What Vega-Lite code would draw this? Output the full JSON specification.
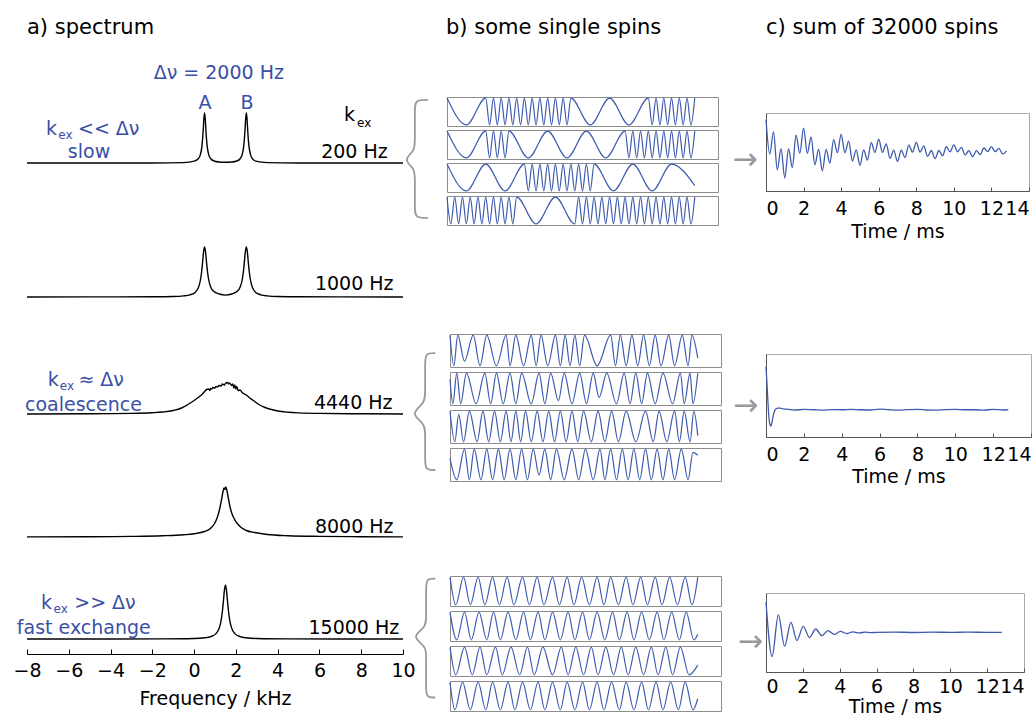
{
"$schema":"https://vega.github.io/schema/vega-lite/v6.json",
"background":"white",
"padding":{"left":12,"top":17,"right":0,"bottom":0},
"config":{"view":{"stroke":null},"font":"DejaVu Sans","text":{"font":"DejaVu Sans"},
 "title":{"anchor":"start","frame":"group","fontSize":21,"fontWeight":"normal","font":"DejaVu Sans","color":"black","offset":8},
 "line":{"interpolate":"monotone"}},
"datasets":{
"spec":[
{"k":1,"x":-8,"y":0},{"k":1,"x":-5,"y":0.0003},{"k":1,"x":-2,"y":0.0013},{"k":1,"x":-0.5,"y":0.008},{"k":1,"x":0,"y":0.038},{"k":1,"x":0.2,"y":0.083},{"k":1,"x":0.3,"y":0.168},{"k":1,"x":0.37,"y":0.324},{"k":1,"x":0.41,"y":0.5},{"k":1,"x":0.44,"y":0.69},{"k":1,"x":0.47,"y":0.9},{"k":1,"x":0.5,"y":1},{"k":1,"x":0.53,"y":0.9},{"k":1,"x":0.56,"y":0.69},{"k":1,"x":0.59,"y":0.5},{"k":1,"x":0.63,"y":0.324},{"k":1,"x":0.7,"y":0.168},{"k":1,"x":0.8,"y":0.085},{"k":1,"x":0.95,"y":0.04},{"k":1,"x":1.2,"y":0.02},{"k":1,"x":1.5,"y":0.016},{"k":1,"x":1.8,"y":0.02},{"k":1,"x":2.05,"y":0.04},{"k":1,"x":2.2,"y":0.085},{"k":1,"x":2.3,"y":0.168},{"k":1,"x":2.37,"y":0.324},{"k":1,"x":2.41,"y":0.5},{"k":1,"x":2.44,"y":0.69},{"k":1,"x":2.47,"y":0.9},{"k":1,"x":2.5,"y":1},{"k":1,"x":2.53,"y":0.9},{"k":1,"x":2.56,"y":0.69},{"k":1,"x":2.59,"y":0.5},{"k":1,"x":2.63,"y":0.324},{"k":1,"x":2.7,"y":0.168},{"k":1,"x":2.8,"y":0.083},{"k":1,"x":2.95,"y":0.038},{"k":1,"x":3.5,"y":0.008},{"k":1,"x":5,"y":0.0013},{"k":1,"x":8,"y":0.0003},{"k":1,"x":10,"y":0},
{"k":2,"x":-8,"y":0.001},{"k":2,"x":-5,"y":0.0016},{"k":2,"x":-2,"y":0.005},{"k":2,"x":-1,"y":0.0095},{"k":2,"x":-0.5,"y":0.022},{"k":2,"x":-0.2,"y":0.043},{"k":2,"x":0.05,"y":0.092},{"k":2,"x":0.2,"y":0.183},{"k":2,"x":0.3,"y":0.335},{"k":2,"x":0.36,"y":0.505},{"k":2,"x":0.4,"y":0.668},{"k":2,"x":0.45,"y":0.893},{"k":2,"x":0.5,"y":1},{"k":2,"x":0.55,"y":0.895},{"k":2,"x":0.6,"y":0.67},{"k":2,"x":0.64,"y":0.51},{"k":2,"x":0.7,"y":0.34},{"k":2,"x":0.8,"y":0.195},{"k":2,"x":0.95,"y":0.11},{"k":2,"x":1.2,"y":0.06},{"k":2,"x":1.5,"y":0.038},{"k":2,"x":1.8,"y":0.06},{"k":2,"x":2.05,"y":0.11},{"k":2,"x":2.2,"y":0.195},{"k":2,"x":2.3,"y":0.34},{"k":2,"x":2.36,"y":0.51},{"k":2,"x":2.4,"y":0.67},{"k":2,"x":2.45,"y":0.895},{"k":2,"x":2.5,"y":1},{"k":2,"x":2.55,"y":0.893},{"k":2,"x":2.6,"y":0.668},{"k":2,"x":2.64,"y":0.505},{"k":2,"x":2.7,"y":0.335},{"k":2,"x":2.8,"y":0.183},{"k":2,"x":2.95,"y":0.092},{"k":2,"x":3.2,"y":0.043},{"k":2,"x":3.5,"y":0.022},{"k":2,"x":4,"y":0.0095},{"k":2,"x":5,"y":0.005},{"k":2,"x":7,"y":0.0016},{"k":2,"x":10,"y":0.001},
{"k":3,"x":-8,"y":0},{"k":3,"x":-5,"y":0.005},{"k":3,"x":-3,"y":0.012},{"k":3,"x":-2,"y":0.025},{"k":3,"x":-1.5,"y":0.04},{"k":3,"x":-1,"y":0.07},{"k":3,"x":-0.6,"y":0.12},{"k":3,"x":-0.3,"y":0.19},{"k":3,"x":0,"y":0.27},{"k":3,"x":0.2,"y":0.33},{"k":3,"x":0.4,"y":0.4},{"k":3,"x":0.5,"y":0.45},{"k":3,"x":0.6,"y":0.49},{"k":3,"x":0.7,"y":0.5},{"k":3,"x":0.75,"y":0.47},{"k":3,"x":0.8,"y":0.51},{"k":3,"x":0.85,"y":0.5},{"k":3,"x":0.9,"y":0.53},{"k":3,"x":1,"y":0.52},{"k":3,"x":1.05,"y":0.55},{"k":3,"x":1.1,"y":0.54},{"k":3,"x":1.2,"y":0.57},{"k":3,"x":1.3,"y":0.56},{"k":3,"x":1.35,"y":0.6},{"k":3,"x":1.45,"y":0.58},{"k":3,"x":1.5,"y":0.61},{"k":3,"x":1.6,"y":0.63},{"k":3,"x":1.65,"y":0.6},{"k":3,"x":1.7,"y":0.62},{"k":3,"x":1.8,"y":0.57},{"k":3,"x":1.85,"y":0.6},{"k":3,"x":1.9,"y":0.52},{"k":3,"x":1.95,"y":0.58},{"k":3,"x":2,"y":0.5},{"k":3,"x":2.05,"y":0.55},{"k":3,"x":2.1,"y":0.47},{"k":3,"x":2.2,"y":0.48},{"k":3,"x":2.3,"y":0.43},{"k":3,"x":2.5,"y":0.38},{"k":3,"x":2.7,"y":0.31},{"k":3,"x":2.9,"y":0.25},{"k":3,"x":3.1,"y":0.19},{"k":3,"x":3.4,"y":0.13},{"k":3,"x":3.7,"y":0.09},{"k":3,"x":4,"y":0.06},{"k":3,"x":4.5,"y":0.035},{"k":3,"x":5,"y":0.022},{"k":3,"x":6,"y":0.012},{"k":3,"x":8,"y":0.005},{"k":3,"x":10,"y":0},
{"k":4,"x":-8,"y":0.003},{"k":4,"x":-5,"y":0.006},{"k":4,"x":-3,"y":0.012},{"k":4,"x":-1.5,"y":0.025},{"k":4,"x":-0.5,"y":0.045},{"k":4,"x":0,"y":0.065},{"k":4,"x":0.5,"y":0.11},{"k":4,"x":0.75,"y":0.16},{"k":4,"x":0.95,"y":0.25},{"k":4,"x":1.1,"y":0.38},{"k":4,"x":1.2,"y":0.52},{"k":4,"x":1.3,"y":0.72},{"k":4,"x":1.38,"y":0.9},{"k":4,"x":1.43,"y":0.98},{"k":4,"x":1.47,"y":0.95},{"k":4,"x":1.52,"y":1},{"k":4,"x":1.57,"y":0.93},{"k":4,"x":1.63,"y":0.8},{"k":4,"x":1.7,"y":0.64},{"k":4,"x":1.8,"y":0.48},{"k":4,"x":1.9,"y":0.38},{"k":4,"x":2.05,"y":0.28},{"k":4,"x":2.25,"y":0.19},{"k":4,"x":2.5,"y":0.13},{"k":4,"x":2.9,"y":0.09},{"k":4,"x":3.5,"y":0.05},{"k":4,"x":4.5,"y":0.025},{"k":4,"x":6,"y":0.012},{"k":4,"x":8,"y":0.006},{"k":4,"x":10,"y":0.003},
{"k":5,"x":-8,"y":0.0003},{"k":5,"x":-4,"y":0.001},{"k":5,"x":-1.5,"y":0.003},{"k":5,"x":0,"y":0.011},{"k":5,"x":0.5,"y":0.024},{"k":5,"x":0.8,"y":0.048},{"k":5,"x":1.05,"y":0.108},{"k":5,"x":1.2,"y":0.216},{"k":5,"x":1.28,"y":0.342},{"k":5,"x":1.35,"y":0.54},{"k":5,"x":1.4,"y":0.747},{"k":5,"x":1.45,"y":0.972},{"k":5,"x":1.5,"y":1.08},{"k":5,"x":1.55,"y":0.972},{"k":5,"x":1.6,"y":0.747},{"k":5,"x":1.65,"y":0.54},{"k":5,"x":1.72,"y":0.342},{"k":5,"x":1.8,"y":0.216},{"k":5,"x":1.95,"y":0.108},{"k":5,"x":2.2,"y":0.048},{"k":5,"x":2.5,"y":0.024},{"k":5,"x":3,"y":0.011},{"k":5,"x":4.5,"y":0.003},{"k":5,"x":7,"y":0.001},{"k":5,"x":10,"y":0.0003}
],
"annL":[
{"p":1,"x":-7.09,"y":0.68,"t":"k","c":"b"},{"p":1,"x":-5.56,"y":0.68,"t":"<< Δν","c":"b"},{"p":1,"x":7.17,"y":0.97,"t":"k","c":"k"},
{"p":3,"x":-7.01,"y":0.68,"t":"k","c":"b"},{"p":3,"x":-5.54,"y":0.68,"t":"≈ Δν","c":"b"},
{"p":5,"x":-7.33,"y":0.73,"t":"k","c":"b"},{"p":5,"x":-5.74,"y":0.73,"t":">> Δν","c":"b"}
],
"annS":[
{"p":1,"x":-6.5,"y":0.56,"t":"ex","c":"b"},{"p":1,"x":7.8,"y":0.8,"t":"ex","c":"k"},
{"p":3,"x":-6.43,"y":0.56,"t":"ex","c":"b"},
{"p":5,"x":-6.73,"y":0.6,"t":"ex","c":"b"}
],
"annC":[
{"p":1,"x":1.18,"y":1.806,"t":"Δν = 2000 Hz"},{"p":1,"x":0.52,"y":1.206,"t":"A"},{"p":1,"x":2.53,"y":1.206,"t":"B"},{"p":1,"x":-5.03,"y":0.22,"t":"slow"},
{"p":3,"x":-5.3,"y":0.19,"t":"coalescence"},
{"p":5,"x":-5.28,"y":0.226,"t":"fast exchange"}
],
"annR":[
{"p":1,"x":9.27,"y":0.226,"t":"200 Hz"},{"p":2,"x":9.55,"y":0.254,"t":"1000 Hz"},{"p":3,"x":9.5,"y":0.23,"t":"4440 Hz"},{"p":4,"x":9.55,"y":0.2,"t":"8000 Hz"},{"p":5,"x":9.82,"y":0.23,"t":"15000 Hz"}
],
"brace":[
{"b":1,"i":0,"x":0.75,"y":0.977},{"b":1,"i":1,"x":0.34,"y":0.977},{"b":1,"i":2,"x":0.34,"y":0.9},{"b":1,"i":3,"x":0.34,"y":0.65},{"b":1,"i":4,"x":0.34,"y":0.58},{"b":1,"i":5,"x":-0.035,"y":0.51},{"b":1,"i":6,"x":0.34,"y":0.44},{"b":1,"i":7,"x":0.34,"y":0.37},{"b":1,"i":8,"x":0.34,"y":0.13},{"b":1,"i":9,"x":0.34,"y":0.055},{"b":1,"i":10,"x":0.75,"y":0.055},
{"b":2,"i":0,"x":0.98,"y":0.87},{"b":2,"i":1,"x":0.66,"y":0.87},{"b":2,"i":2,"x":0.66,"y":0.8},{"b":2,"i":3,"x":0.66,"y":0.6},{"b":2,"i":4,"x":0.66,"y":0.53},{"b":2,"i":5,"x":0.18,"y":0.46},{"b":2,"i":6,"x":0.66,"y":0.39},{"b":2,"i":7,"x":0.66,"y":0.32},{"b":2,"i":8,"x":0.66,"y":0.14},{"b":2,"i":9,"x":0.66,"y":0.075},{"b":2,"i":10,"x":0.98,"y":0.075},
{"b":3,"i":0,"x":0.98,"y":0.98},{"b":3,"i":1,"x":0.69,"y":0.98},{"b":3,"i":2,"x":0.69,"y":0.91},{"b":3,"i":3,"x":0.69,"y":0.69},{"b":3,"i":4,"x":0.69,"y":0.62},{"b":3,"i":5,"x":0.22,"y":0.55},{"b":3,"i":6,"x":0.69,"y":0.48},{"b":3,"i":7,"x":0.69,"y":0.41},{"b":3,"i":8,"x":0.69,"y":0.17},{"b":3,"i":9,"x":0.69,"y":0.1},{"b":3,"i":10,"x":0.98,"y":0.1}
],
"arrows":[
{"b":1,"x":0.53,"y":0.51,"t":"→"},{"b":2,"x":0.46,"y":0.51,"t":"→"},{"b":3,"x":0.6,"y":0.51,"t":"→"}
],
"fid":[
{"n":1,"t":0,"v":1},{"n":1,"t":0.2,"v":-0.09},{"n":1,"t":0.4,"v":0.61},{"n":1,"t":0.6,"v":-0.59},{"n":1,"t":0.8,"v":0.08},{"n":1,"t":1,"v":-0.85},{"n":1,"t":1.2,"v":0.08},{"n":1,"t":1.4,"v":-0.52},{"n":1,"t":1.6,"v":0.51},{"n":1,"t":1.8,"v":-0.07},{"n":1,"t":2,"v":0.73},{"n":1,"t":2.2,"v":-0.07},{"n":1,"t":2.4,"v":0.45},{"n":1,"t":2.6,"v":-0.43},{"n":1,"t":2.8,"v":0.06},{"n":1,"t":3,"v":-0.62},{"n":1,"t":3.2,"v":0.06},{"n":1,"t":3.4,"v":-0.38},{"n":1,"t":3.6,"v":0.37},{"n":1,"t":3.8,"v":-0.05},{"n":1,"t":4,"v":0.53},{"n":1,"t":4.2,"v":-0.05},{"n":1,"t":4.4,"v":0.32},{"n":1,"t":4.6,"v":-0.31},{"n":1,"t":4.8,"v":0.04},{"n":1,"t":5,"v":-0.45},{"n":1,"t":5.2,"v":0.04},{"n":1,"t":5.4,"v":-0.28},{"n":1,"t":5.6,"v":0.27},{"n":1,"t":5.8,"v":-0.04},{"n":1,"t":6,"v":0.38},{"n":1,"t":6.2,"v":-0.035},{"n":1,"t":6.4,"v":0.235},{"n":1,"t":6.6,"v":-0.228},{"n":1,"t":6.8,"v":0.032},{"n":1,"t":7,"v":-0.326},{"n":1,"t":7.2,"v":0.03},{"n":1,"t":7.4,"v":-0.2},{"n":1,"t":7.6,"v":0.194},{"n":1,"t":7.8,"v":-0.027},{"n":1,"t":8,"v":0.278},{"n":1,"t":8.2,"v":-0.026},{"n":1,"t":8.4,"v":0.171},{"n":1,"t":8.6,"v":-0.166},{"n":1,"t":8.8,"v":0.023},{"n":1,"t":9,"v":-0.237},{"n":1,"t":9.2,"v":0.022},{"n":1,"t":9.4,"v":-0.145},{"n":1,"t":9.6,"v":0.141},{"n":1,"t":9.8,"v":-0.02},{"n":1,"t":10,"v":0.202},{"n":1,"t":10.2,"v":-0.019},{"n":1,"t":10.4,"v":0.124},{"n":1,"t":10.6,"v":-0.12},{"n":1,"t":10.8,"v":0.017},{"n":1,"t":11,"v":-0.172},{"n":1,"t":11.2,"v":0.016},{"n":1,"t":11.4,"v":-0.105},{"n":1,"t":11.6,"v":0.102},{"n":1,"t":11.8,"v":-0.014},{"n":1,"t":12,"v":0.147},{"n":1,"t":12.2,"v":-0.014},{"n":1,"t":12.4,"v":0.09},{"n":1,"t":12.6,"v":-0.087},{"n":1,"t":12.8,"v":0.012},
{"n":2,"t":0,"v":1},{"n":2,"t":0.05,"v":0.62},{"n":2,"t":0.1,"v":0.2},{"n":2,"t":0.15,"v":-0.15},{"n":2,"t":0.2,"v":-0.33},{"n":2,"t":0.26,"v":-0.38},{"n":2,"t":0.32,"v":-0.28},{"n":2,"t":0.4,"v":-0.1},{"n":2,"t":0.5,"v":0.01},{"n":2,"t":0.6,"v":0.04},{"n":2,"t":0.75,"v":0.04},{"n":2,"t":0.9,"v":0.02},{"n":2,"t":1.2,"v":0.01},{"n":2,"t":1.5,"v":-0.01},{"n":2,"t":2,"v":0.01},{"n":2,"t":2.5,"v":0},{"n":2,"t":3,"v":-0.01},{"n":2,"t":3.5,"v":0.005},{"n":2,"t":4,"v":0},{"n":2,"t":4.5,"v":0.01},{"n":2,"t":5,"v":0},{"n":2,"t":5.5,"v":-0.005},{"n":2,"t":6,"v":0.015},{"n":2,"t":6.5,"v":0},{"n":2,"t":7,"v":-0.01},{"n":2,"t":7.5,"v":0.005},{"n":2,"t":8,"v":0.01},{"n":2,"t":8.5,"v":-0.005},{"n":2,"t":9,"v":-0.01},{"n":2,"t":9.5,"v":0.005},{"n":2,"t":10,"v":0.01},{"n":2,"t":10.5,"v":0},{"n":2,"t":11,"v":0},{"n":2,"t":11.5,"v":-0.01},{"n":2,"t":12,"v":0.01},{"n":2,"t":12.5,"v":-0.005},{"n":2,"t":12.8,"v":0},
{"n":3,"t":0,"v":1},{"n":3,"t":0.33,"v":-0.8},{"n":3,"t":0.67,"v":0.58},{"n":3,"t":1.01,"v":-0.46},{"n":3,"t":1.35,"v":0.33},{"n":3,"t":1.68,"v":-0.27},{"n":3,"t":2.02,"v":0.2},{"n":3,"t":2.36,"v":-0.17},{"n":3,"t":2.7,"v":0.11},{"n":3,"t":3.03,"v":-0.11},{"n":3,"t":3.37,"v":0.06},{"n":3,"t":3.7,"v":-0.07},{"n":3,"t":4.04,"v":0.03},{"n":3,"t":4.38,"v":-0.04},{"n":3,"t":4.7,"v":0.015},{"n":3,"t":5.05,"v":-0.02},{"n":3,"t":5.4,"v":0.01},{"n":3,"t":5.7,"v":-0.01},{"n":3,"t":6,"v":0},{"n":3,"t":7,"v":0.01},{"n":3,"t":8,"v":-0.005},{"n":3,"t":9,"v":0.005},{"n":3,"t":10,"v":0},{"n":3,"t":11,"v":0.005},{"n":3,"t":12,"v":0},{"n":3,"t":12.8,"v":0}
],
"spins":[
{"g":1,"r":1,"t":0,"v":1},{"g":1,"r":1,"t":1,"v":-1},{"g":1,"r":1,"t":2,"v":1},{"g":1,"r":1,"t":2.2,"v":-1},{"g":1,"r":1,"t":2.4,"v":1},{"g":1,"r":1,"t":2.6,"v":-1},{"g":1,"r":1,"t":2.8,"v":1},{"g":1,"r":1,"t":3,"v":-1},{"g":1,"r":1,"t":3.2,"v":1},{"g":1,"r":1,"t":3.4,"v":-1},{"g":1,"r":1,"t":3.6,"v":1},{"g":1,"r":1,"t":3.8,"v":-1},{"g":1,"r":1,"t":4,"v":1},{"g":1,"r":1,"t":4.2,"v":-1},{"g":1,"r":1,"t":4.4,"v":1},{"g":1,"r":1,"t":4.6,"v":-1},{"g":1,"r":1,"t":4.8,"v":1},{"g":1,"r":1,"t":5,"v":-1},{"g":1,"r":1,"t":5.2,"v":1},{"g":1,"r":1,"t":5.4,"v":-1},{"g":1,"r":1,"t":5.6,"v":1},{"g":1,"r":1,"t":5.8,"v":-1},{"g":1,"r":1,"t":6,"v":1},{"g":1,"r":1,"t":6.2,"v":-1},{"g":1,"r":1,"t":6.4,"v":1},{"g":1,"r":1,"t":7.4,"v":-1},{"g":1,"r":1,"t":8.4,"v":1},{"g":1,"r":1,"t":9.4,"v":-1},{"g":1,"r":1,"t":10.4,"v":1},{"g":1,"r":1,"t":10.6,"v":-1},{"g":1,"r":1,"t":10.8,"v":1},{"g":1,"r":1,"t":11,"v":-1},{"g":1,"r":1,"t":11.2,"v":1},{"g":1,"r":1,"t":11.4,"v":-1},{"g":1,"r":1,"t":11.6,"v":1},{"g":1,"r":1,"t":11.8,"v":-1},{"g":1,"r":1,"t":12,"v":1},{"g":1,"r":1,"t":12.2,"v":-1},{"g":1,"r":1,"t":12.4,"v":1},{"g":1,"r":1,"t":12.6,"v":-1},{"g":1,"r":1,"t":12.8,"v":1},
{"g":1,"r":2,"t":0,"v":1},{"g":1,"r":2,"t":1,"v":-1},{"g":1,"r":2,"t":2,"v":1},{"g":1,"r":2,"t":2.2,"v":-1},{"g":1,"r":2,"t":2.4,"v":1},{"g":1,"r":2,"t":2.6,"v":-1},{"g":1,"r":2,"t":2.8,"v":1},{"g":1,"r":2,"t":3,"v":-1},{"g":1,"r":2,"t":3.2,"v":1},{"g":1,"r":2,"t":4.2,"v":-1},{"g":1,"r":2,"t":5.2,"v":1},{"g":1,"r":2,"t":6.2,"v":-1},{"g":1,"r":2,"t":7.2,"v":1},{"g":1,"r":2,"t":8.2,"v":-1},{"g":1,"r":2,"t":9.2,"v":1},{"g":1,"r":2,"t":9.4,"v":-1},{"g":1,"r":2,"t":9.6,"v":1},{"g":1,"r":2,"t":9.8,"v":-1},{"g":1,"r":2,"t":10,"v":1},{"g":1,"r":2,"t":10.2,"v":-1},{"g":1,"r":2,"t":10.4,"v":1},{"g":1,"r":2,"t":10.6,"v":-1},{"g":1,"r":2,"t":10.8,"v":1},{"g":1,"r":2,"t":11,"v":-1},{"g":1,"r":2,"t":11.2,"v":1},{"g":1,"r":2,"t":11.4,"v":-1},{"g":1,"r":2,"t":11.6,"v":1},{"g":1,"r":2,"t":11.8,"v":-1},{"g":1,"r":2,"t":12,"v":1},{"g":1,"r":2,"t":12.2,"v":-1},{"g":1,"r":2,"t":12.4,"v":1},{"g":1,"r":2,"t":12.6,"v":-1},{"g":1,"r":2,"t":12.8,"v":1},
{"g":1,"r":3,"t":0,"v":1},{"g":1,"r":3,"t":1,"v":-1},{"g":1,"r":3,"t":2,"v":1},{"g":1,"r":3,"t":3,"v":-1},{"g":1,"r":3,"t":4,"v":1},{"g":1,"r":3,"t":4.2,"v":-1},{"g":1,"r":3,"t":4.4,"v":1},{"g":1,"r":3,"t":4.6,"v":-1},{"g":1,"r":3,"t":4.8,"v":1},{"g":1,"r":3,"t":5,"v":-1},{"g":1,"r":3,"t":5.2,"v":1},{"g":1,"r":3,"t":5.4,"v":-1},{"g":1,"r":3,"t":5.6,"v":1},{"g":1,"r":3,"t":5.8,"v":-1},{"g":1,"r":3,"t":6,"v":1},{"g":1,"r":3,"t":6.2,"v":-1},{"g":1,"r":3,"t":6.4,"v":1},{"g":1,"r":3,"t":6.6,"v":-1},{"g":1,"r":3,"t":6.8,"v":1},{"g":1,"r":3,"t":7,"v":-1},{"g":1,"r":3,"t":7.2,"v":1},{"g":1,"r":3,"t":7.4,"v":-1},{"g":1,"r":3,"t":7.6,"v":1},{"g":1,"r":3,"t":8.6,"v":-1},{"g":1,"r":3,"t":9.6,"v":1},{"g":1,"r":3,"t":10.6,"v":-1},{"g":1,"r":3,"t":11.6,"v":1},{"g":1,"r":3,"t":12.8,"v":-0.6},
{"g":1,"r":4,"t":0,"v":1},{"g":1,"r":4,"t":0.2,"v":-1},{"g":1,"r":4,"t":0.4,"v":1},{"g":1,"r":4,"t":0.6,"v":-1},{"g":1,"r":4,"t":0.8,"v":1},{"g":1,"r":4,"t":1,"v":-1},{"g":1,"r":4,"t":1.2,"v":1},{"g":1,"r":4,"t":1.4,"v":-1},{"g":1,"r":4,"t":1.6,"v":1},{"g":1,"r":4,"t":1.8,"v":-1},{"g":1,"r":4,"t":2,"v":1},{"g":1,"r":4,"t":2.2,"v":-1},{"g":1,"r":4,"t":2.4,"v":1},{"g":1,"r":4,"t":2.6,"v":-1},{"g":1,"r":4,"t":2.8,"v":1},{"g":1,"r":4,"t":3,"v":-1},{"g":1,"r":4,"t":3.2,"v":1},{"g":1,"r":4,"t":3.4,"v":-1},{"g":1,"r":4,"t":3.6,"v":1},{"g":1,"r":4,"t":4.6,"v":-1},{"g":1,"r":4,"t":5.6,"v":1},{"g":1,"r":4,"t":6.6,"v":-1},{"g":1,"r":4,"t":6.8,"v":1},{"g":1,"r":4,"t":7,"v":-1},{"g":1,"r":4,"t":7.2,"v":1},{"g":1,"r":4,"t":7.4,"v":-1},{"g":1,"r":4,"t":7.6,"v":1},{"g":1,"r":4,"t":7.8,"v":-1},{"g":1,"r":4,"t":8,"v":1},{"g":1,"r":4,"t":8.2,"v":-1},{"g":1,"r":4,"t":8.4,"v":1},{"g":1,"r":4,"t":8.6,"v":-1},{"g":1,"r":4,"t":8.8,"v":1},{"g":1,"r":4,"t":9,"v":-1},{"g":1,"r":4,"t":9.2,"v":1},{"g":1,"r":4,"t":9.4,"v":-1},{"g":1,"r":4,"t":9.6,"v":1},{"g":1,"r":4,"t":9.8,"v":-1},{"g":1,"r":4,"t":10,"v":1},{"g":1,"r":4,"t":10.2,"v":-1},{"g":1,"r":4,"t":10.4,"v":1},{"g":1,"r":4,"t":10.6,"v":-1},{"g":1,"r":4,"t":10.8,"v":1},{"g":1,"r":4,"t":11,"v":-1},{"g":1,"r":4,"t":11.2,"v":1},{"g":1,"r":4,"t":11.4,"v":-1},{"g":1,"r":4,"t":11.6,"v":1},{"g":1,"r":4,"t":11.8,"v":-1},{"g":1,"r":4,"t":12,"v":1},{"g":1,"r":4,"t":12.2,"v":-1},{"g":1,"r":4,"t":12.4,"v":1},{"g":1,"r":4,"t":12.6,"v":-1},{"g":1,"r":4,"t":12.8,"v":1},
{"g":2,"r":1,"t":0,"v":1},{"g":2,"r":1,"t":0.2,"v":-1},{"g":2,"r":1,"t":0.4,"v":1},{"g":2,"r":1,"t":0.75,"v":-0.7},{"g":2,"r":1,"t":1.2,"v":1},{"g":2,"r":1,"t":1.55,"v":-1},{"g":2,"r":1,"t":1.9,"v":1},{"g":2,"r":1,"t":2.4,"v":-1},{"g":2,"r":1,"t":2.9,"v":1},{"g":2,"r":1,"t":3.1,"v":-1},{"g":2,"r":1,"t":3.4,"v":1},{"g":2,"r":1,"t":3.8,"v":-1},{"g":2,"r":1,"t":4.2,"v":1},{"g":2,"r":1,"t":4.45,"v":-1},{"g":2,"r":1,"t":4.7,"v":1},{"g":2,"r":1,"t":5.05,"v":-1},{"g":2,"r":1,"t":5.45,"v":1},{"g":2,"r":1,"t":5.7,"v":-1},{"g":2,"r":1,"t":5.95,"v":1},{"g":2,"r":1,"t":6.2,"v":-1},{"g":2,"r":1,"t":6.45,"v":1},{"g":2,"r":1,"t":6.7,"v":-1},{"g":2,"r":1,"t":6.95,"v":1},{"g":2,"r":1,"t":7.6,"v":-1},{"g":2,"r":1,"t":8.3,"v":1},{"g":2,"r":1,"t":8.55,"v":-1},{"g":2,"r":1,"t":8.8,"v":1},{"g":2,"r":1,"t":9.1,"v":-1},{"g":2,"r":1,"t":9.4,"v":1},{"g":2,"r":1,"t":9.7,"v":-1},{"g":2,"r":1,"t":10,"v":1},{"g":2,"r":1,"t":10.3,"v":-1},{"g":2,"r":1,"t":10.6,"v":1},{"g":2,"r":1,"t":10.9,"v":-1},{"g":2,"r":1,"t":11.3,"v":1},{"g":2,"r":1,"t":11.6,"v":-1},{"g":2,"r":1,"t":12,"v":1},{"g":2,"r":1,"t":12.3,"v":-1},{"g":2,"r":1,"t":12.5,"v":1},{"g":2,"r":1,"t":12.8,"v":-0.5},
{"g":2,"r":2,"t":0,"v":0.6},{"g":2,"r":2,"t":0.15,"v":-1},{"g":2,"r":2,"t":0.35,"v":1},{"g":2,"r":2,"t":0.55,"v":-1},{"g":2,"r":2,"t":0.85,"v":1},{"g":2,"r":2,"t":1.35,"v":-1},{"g":2,"r":2,"t":1.8,"v":1},{"g":2,"r":2,"t":2.1,"v":-1},{"g":2,"r":2,"t":2.4,"v":1},{"g":2,"r":2,"t":2.75,"v":-1},{"g":2,"r":2,"t":3.1,"v":1},{"g":2,"r":2,"t":3.4,"v":-1},{"g":2,"r":2,"t":3.7,"v":1},{"g":2,"r":2,"t":4.2,"v":-1},{"g":2,"r":2,"t":4.6,"v":1},{"g":2,"r":2,"t":4.9,"v":-1},{"g":2,"r":2,"t":5.2,"v":1},{"g":2,"r":2,"t":5.6,"v":-0.8},{"g":2,"r":2,"t":5.9,"v":1},{"g":2,"r":2,"t":6.3,"v":-1},{"g":2,"r":2,"t":6.7,"v":1},{"g":2,"r":2,"t":7.05,"v":-1},{"g":2,"r":2,"t":7.4,"v":1},{"g":2,"r":2,"t":7.7,"v":-0.6},{"g":2,"r":2,"t":8.1,"v":1},{"g":2,"r":2,"t":8.6,"v":-1},{"g":2,"r":2,"t":9,"v":1},{"g":2,"r":2,"t":9.3,"v":-1},{"g":2,"r":2,"t":9.6,"v":1},{"g":2,"r":2,"t":9.9,"v":-1},{"g":2,"r":2,"t":10.2,"v":1},{"g":2,"r":2,"t":10.6,"v":-1},{"g":2,"r":2,"t":11,"v":1},{"g":2,"r":2,"t":11.5,"v":-1},{"g":2,"r":2,"t":11.9,"v":1},{"g":2,"r":2,"t":12.1,"v":-1},{"g":2,"r":2,"t":12.4,"v":1},{"g":2,"r":2,"t":12.55,"v":-1},{"g":2,"r":2,"t":12.8,"v":1},
{"g":2,"r":3,"t":0,"v":1},{"g":2,"r":3,"t":0.25,"v":-1},{"g":2,"r":3,"t":0.45,"v":0.8},{"g":2,"r":3,"t":0.7,"v":-1},{"g":2,"r":3,"t":1,"v":1},{"g":2,"r":3,"t":1.4,"v":-1},{"g":2,"r":3,"t":1.7,"v":1},{"g":2,"r":3,"t":2,"v":-1},{"g":2,"r":3,"t":2.3,"v":1},{"g":2,"r":3,"t":2.6,"v":-1},{"g":2,"r":3,"t":2.9,"v":1},{"g":2,"r":3,"t":3.15,"v":-1},{"g":2,"r":3,"t":3.4,"v":1},{"g":2,"r":3,"t":3.65,"v":-1},{"g":2,"r":3,"t":3.9,"v":1},{"g":2,"r":3,"t":4.2,"v":-1},{"g":2,"r":3,"t":4.5,"v":1},{"g":2,"r":3,"t":4.8,"v":-1},{"g":2,"r":3,"t":5.1,"v":1},{"g":2,"r":3,"t":5.4,"v":-1},{"g":2,"r":3,"t":5.7,"v":1},{"g":2,"r":3,"t":6,"v":-1},{"g":2,"r":3,"t":6.3,"v":1},{"g":2,"r":3,"t":6.6,"v":-1},{"g":2,"r":3,"t":6.9,"v":1},{"g":2,"r":3,"t":7.3,"v":-1},{"g":2,"r":3,"t":7.65,"v":1},{"g":2,"r":3,"t":8,"v":-1},{"g":2,"r":3,"t":8.35,"v":1},{"g":2,"r":3,"t":8.7,"v":-1},{"g":2,"r":3,"t":9.1,"v":1},{"g":2,"r":3,"t":9.6,"v":-1},{"g":2,"r":3,"t":10.1,"v":1},{"g":2,"r":3,"t":10.5,"v":-1},{"g":2,"r":3,"t":10.8,"v":1},{"g":2,"r":3,"t":11.2,"v":-1},{"g":2,"r":3,"t":11.6,"v":1},{"g":2,"r":3,"t":11.85,"v":-1},{"g":2,"r":3,"t":12.1,"v":1},{"g":2,"r":3,"t":12.4,"v":-1},{"g":2,"r":3,"t":12.6,"v":1},{"g":2,"r":3,"t":12.8,"v":-0.6},
{"g":2,"r":4,"t":0,"v":0.4},{"g":2,"r":4,"t":0.35,"v":-1},{"g":2,"r":4,"t":0.75,"v":1},{"g":2,"r":4,"t":1,"v":-1},{"g":2,"r":4,"t":1.25,"v":1},{"g":2,"r":4,"t":1.6,"v":-1},{"g":2,"r":4,"t":1.9,"v":1},{"g":2,"r":4,"t":2.2,"v":-1},{"g":2,"r":4,"t":2.5,"v":1},{"g":2,"r":4,"t":2.8,"v":-1},{"g":2,"r":4,"t":3.1,"v":1},{"g":2,"r":4,"t":3.4,"v":-1},{"g":2,"r":4,"t":3.7,"v":1},{"g":2,"r":4,"t":4,"v":-1},{"g":2,"r":4,"t":4.3,"v":1},{"g":2,"r":4,"t":4.6,"v":-0.7},{"g":2,"r":4,"t":4.9,"v":1},{"g":2,"r":4,"t":5.2,"v":-1},{"g":2,"r":4,"t":5.5,"v":1},{"g":2,"r":4,"t":5.9,"v":-1},{"g":2,"r":4,"t":6.3,"v":1},{"g":2,"r":4,"t":6.65,"v":-1},{"g":2,"r":4,"t":7,"v":1},{"g":2,"r":4,"t":7.4,"v":-1},{"g":2,"r":4,"t":7.75,"v":1},{"g":2,"r":4,"t":8,"v":-1},{"g":2,"r":4,"t":8.3,"v":1},{"g":2,"r":4,"t":8.6,"v":-1},{"g":2,"r":4,"t":8.9,"v":1},{"g":2,"r":4,"t":9.2,"v":-1},{"g":2,"r":4,"t":9.5,"v":1},{"g":2,"r":4,"t":9.8,"v":-1},{"g":2,"r":4,"t":10.1,"v":1},{"g":2,"r":4,"t":10.4,"v":-1},{"g":2,"r":4,"t":10.7,"v":1},{"g":2,"r":4,"t":11,"v":-1},{"g":2,"r":4,"t":11.3,"v":1},{"g":2,"r":4,"t":11.6,"v":-1},{"g":2,"r":4,"t":11.95,"v":1},{"g":2,"r":4,"t":12.3,"v":-1},{"g":2,"r":4,"t":12.55,"v":0.8},{"g":2,"r":4,"t":12.8,"v":0.6},
{"g":3,"r":1,"t":0,"v":1},{"g":3,"r":1,"t":0.3,"v":-1},{"g":3,"r":1,"t":0.7,"v":1},{"g":3,"r":1,"t":1.05,"v":-1},{"g":3,"r":1,"t":1.45,"v":1},{"g":3,"r":1,"t":1.8,"v":-1},{"g":3,"r":1,"t":2.2,"v":1},{"g":3,"r":1,"t":2.55,"v":-1},{"g":3,"r":1,"t":2.95,"v":1},{"g":3,"r":1,"t":3.3,"v":-1},{"g":3,"r":1,"t":3.75,"v":1},{"g":3,"r":1,"t":4.1,"v":-1},{"g":3,"r":1,"t":4.5,"v":1},{"g":3,"r":1,"t":4.85,"v":-1},{"g":3,"r":1,"t":5.3,"v":1},{"g":3,"r":1,"t":5.65,"v":-1},{"g":3,"r":1,"t":6.05,"v":1},{"g":3,"r":1,"t":6.4,"v":-1},{"g":3,"r":1,"t":6.8,"v":1},{"g":3,"r":1,"t":7.2,"v":-1},{"g":3,"r":1,"t":7.6,"v":1},{"g":3,"r":1,"t":7.95,"v":-1},{"g":3,"r":1,"t":8.3,"v":1},{"g":3,"r":1,"t":8.7,"v":-1},{"g":3,"r":1,"t":9.1,"v":1},{"g":3,"r":1,"t":9.45,"v":-1},{"g":3,"r":1,"t":9.85,"v":1},{"g":3,"r":1,"t":10.2,"v":-1},{"g":3,"r":1,"t":10.6,"v":1},{"g":3,"r":1,"t":10.95,"v":-1},{"g":3,"r":1,"t":11.35,"v":1},{"g":3,"r":1,"t":11.75,"v":-1},{"g":3,"r":1,"t":12.15,"v":1},{"g":3,"r":1,"t":12.5,"v":-1},{"g":3,"r":1,"t":12.8,"v":1},
{"g":3,"r":2,"t":0,"v":1},{"g":3,"r":2,"t":0.35,"v":-1},{"g":3,"r":2,"t":0.75,"v":1},{"g":3,"r":2,"t":1.1,"v":-1},{"g":3,"r":2,"t":1.5,"v":1},{"g":3,"r":2,"t":1.9,"v":-1},{"g":3,"r":2,"t":2.25,"v":1},{"g":3,"r":2,"t":2.6,"v":-1},{"g":3,"r":2,"t":3,"v":1},{"g":3,"r":2,"t":3.4,"v":-1},{"g":3,"r":2,"t":3.8,"v":1},{"g":3,"r":2,"t":4.15,"v":-1},{"g":3,"r":2,"t":4.55,"v":1},{"g":3,"r":2,"t":4.9,"v":-1},{"g":3,"r":2,"t":5.3,"v":1},{"g":3,"r":2,"t":5.7,"v":-1},{"g":3,"r":2,"t":6.1,"v":1},{"g":3,"r":2,"t":6.45,"v":-1},{"g":3,"r":2,"t":6.85,"v":1},{"g":3,"r":2,"t":7.2,"v":-1},{"g":3,"r":2,"t":7.6,"v":1},{"g":3,"r":2,"t":8,"v":-1},{"g":3,"r":2,"t":8.4,"v":1},{"g":3,"r":2,"t":8.75,"v":-1},{"g":3,"r":2,"t":9.15,"v":1},{"g":3,"r":2,"t":9.5,"v":-1},{"g":3,"r":2,"t":9.9,"v":1},{"g":3,"r":2,"t":10.3,"v":-1},{"g":3,"r":2,"t":10.7,"v":1},{"g":3,"r":2,"t":11.05,"v":-1},{"g":3,"r":2,"t":11.45,"v":1},{"g":3,"r":2,"t":11.85,"v":-1},{"g":3,"r":2,"t":12.2,"v":1},{"g":3,"r":2,"t":12.6,"v":-1},{"g":3,"r":2,"t":12.8,"v":-0.6},
{"g":3,"r":3,"t":0,"v":1},{"g":3,"r":3,"t":0.3,"v":-1},{"g":3,"r":3,"t":0.75,"v":1},{"g":3,"r":3,"t":1.15,"v":-1},{"g":3,"r":3,"t":1.55,"v":1},{"g":3,"r":3,"t":1.9,"v":-1},{"g":3,"r":3,"t":2.35,"v":1},{"g":3,"r":3,"t":2.7,"v":-1},{"g":3,"r":3,"t":3.15,"v":1},{"g":3,"r":3,"t":3.6,"v":-1},{"g":3,"r":3,"t":4,"v":1},{"g":3,"r":3,"t":4.35,"v":-1},{"g":3,"r":3,"t":4.8,"v":1},{"g":3,"r":3,"t":5.3,"v":-1},{"g":3,"r":3,"t":5.75,"v":1},{"g":3,"r":3,"t":6.1,"v":-1},{"g":3,"r":3,"t":6.5,"v":1},{"g":3,"r":3,"t":6.9,"v":-1},{"g":3,"r":3,"t":7.3,"v":1},{"g":3,"r":3,"t":7.65,"v":-1},{"g":3,"r":3,"t":8.05,"v":1},{"g":3,"r":3,"t":8.45,"v":-1},{"g":3,"r":3,"t":8.85,"v":1},{"g":3,"r":3,"t":9.2,"v":-1},{"g":3,"r":3,"t":9.6,"v":1},{"g":3,"r":3,"t":10,"v":-1},{"g":3,"r":3,"t":10.4,"v":1},{"g":3,"r":3,"t":10.75,"v":-1},{"g":3,"r":3,"t":11.15,"v":1},{"g":3,"r":3,"t":11.5,"v":-1},{"g":3,"r":3,"t":11.9,"v":1},{"g":3,"r":3,"t":12.35,"v":-1},{"g":3,"r":3,"t":12.8,"v":-0.3},
{"g":3,"r":4,"t":0,"v":1},{"g":3,"r":4,"t":0.25,"v":-1},{"g":3,"r":4,"t":0.65,"v":1},{"g":3,"r":4,"t":1.05,"v":-1},{"g":3,"r":4,"t":1.45,"v":1},{"g":3,"r":4,"t":1.85,"v":-1},{"g":3,"r":4,"t":2.2,"v":1},{"g":3,"r":4,"t":2.6,"v":-1},{"g":3,"r":4,"t":3,"v":1},{"g":3,"r":4,"t":3.35,"v":-1},{"g":3,"r":4,"t":3.75,"v":1},{"g":3,"r":4,"t":4.15,"v":-1},{"g":3,"r":4,"t":4.55,"v":1},{"g":3,"r":4,"t":4.9,"v":-1},{"g":3,"r":4,"t":5.3,"v":1},{"g":3,"r":4,"t":5.7,"v":-1},{"g":3,"r":4,"t":6.05,"v":1},{"g":3,"r":4,"t":6.45,"v":-1},{"g":3,"r":4,"t":6.85,"v":1},{"g":3,"r":4,"t":7.2,"v":-1},{"g":3,"r":4,"t":7.6,"v":1},{"g":3,"r":4,"t":7.95,"v":-1},{"g":3,"r":4,"t":8.35,"v":1},{"g":3,"r":4,"t":8.75,"v":-1},{"g":3,"r":4,"t":9.1,"v":1},{"g":3,"r":4,"t":9.5,"v":-1},{"g":3,"r":4,"t":9.9,"v":1},{"g":3,"r":4,"t":10.25,"v":-1},{"g":3,"r":4,"t":10.65,"v":1},{"g":3,"r":4,"t":11,"v":-1},{"g":3,"r":4,"t":11.4,"v":1},{"g":3,"r":4,"t":11.8,"v":-1},{"g":3,"r":4,"t":12.15,"v":1},{"g":3,"r":4,"t":12.55,"v":-1},{"g":3,"r":4,"t":12.8,"v":-0.2}
]
},
"hconcat":[
{"title":{"text":"a) spectrum"},"spacing":0,"bounds":"flush","vconcat":[
 {"width":376,"height":117,
  "encoding":{"x":{"field":"x","type":"quantitative","scale":{"domain":[-8,10],"nice":false},"axis":null},"y":{"field":"y","type":"quantitative","scale":{"domain":[0,2.34],"nice":false},"axis":null}},
  "layer":[
   {"data":{"name":"spec"},"transform":[{"filter":"datum.k==1"}],"mark":{"type":"line","color":"black","strokeWidth":1.4}},
   {"data":{"name":"annL"},"transform":[{"filter":"datum.p==1"}],"mark":{"type":"text","align":"left","baseline":"middle","fontSize":19},"encoding":{"text":{"field":"t"},"color":{"field":"c","type":"nominal","scale":{"domain":["b","k"],"range":["#3a4fa6","#000000"]},"legend":null}}},
   {"data":{"name":"annS"},"transform":[{"filter":"datum.p==1"}],"mark":{"type":"text","align":"left","baseline":"middle","fontSize":12},"encoding":{"text":{"field":"t"},"color":{"field":"c","type":"nominal","scale":{"domain":["b","k"],"range":["#3a4fa6","#000000"]},"legend":null}}},
   {"data":{"name":"annC"},"transform":[{"filter":"datum.p==1"}],"mark":{"type":"text","align":"center","baseline":"middle","fontSize":19,"color":"#3a4fa6"},"encoding":{"text":{"field":"t"}}},
   {"data":{"name":"annR"},"transform":[{"filter":"datum.p==1"}],"mark":{"type":"text","align":"right","baseline":"middle","fontSize":19,"color":"black"},"encoding":{"text":{"field":"t"}}}
  ]},
 {"width":376,"height":134,
  "encoding":{"x":{"field":"x","type":"quantitative","scale":{"domain":[-8,10],"nice":false},"axis":null},"y":{"field":"y","type":"quantitative","scale":{"domain":[0,2.68],"nice":false},"axis":null}},
  "layer":[
   {"data":{"name":"spec"},"transform":[{"filter":"datum.k==2"}],"mark":{"type":"line","color":"black","strokeWidth":1.4}},
   {"data":{"name":"annR"},"transform":[{"filter":"datum.p==2"}],"mark":{"type":"text","align":"right","baseline":"middle","fontSize":19,"color":"black"},"encoding":{"text":{"field":"t"}}}
  ]},
 {"width":376,"height":117,
  "encoding":{"x":{"field":"x","type":"quantitative","scale":{"domain":[-8,10],"nice":false},"axis":null},"y":{"field":"y","type":"quantitative","scale":{"domain":[0,2.34],"nice":false},"axis":null}},
  "layer":[
   {"data":{"name":"spec"},"transform":[{"filter":"datum.k==3"}],"mark":{"type":"line","color":"black","strokeWidth":1.4}},
   {"data":{"name":"annL"},"transform":[{"filter":"datum.p==3"}],"mark":{"type":"text","align":"left","baseline":"middle","fontSize":19},"encoding":{"text":{"field":"t"},"color":{"field":"c","type":"nominal","scale":{"domain":["b","k"],"range":["#3a4fa6","#000000"]},"legend":null}}},
   {"data":{"name":"annS"},"transform":[{"filter":"datum.p==3"}],"mark":{"type":"text","align":"left","baseline":"middle","fontSize":12},"encoding":{"text":{"field":"t"},"color":{"field":"c","type":"nominal","scale":{"domain":["b","k"],"range":["#3a4fa6","#000000"]},"legend":null}}},
   {"data":{"name":"annC"},"transform":[{"filter":"datum.p==3"}],"mark":{"type":"text","align":"center","baseline":"middle","fontSize":19,"color":"#3a4fa6"},"encoding":{"text":{"field":"t"}}},
   {"data":{"name":"annR"},"transform":[{"filter":"datum.p==3"}],"mark":{"type":"text","align":"right","baseline":"middle","fontSize":19,"color":"black"},"encoding":{"text":{"field":"t"}}}
  ]},
 {"width":376,"height":123,
  "encoding":{"x":{"field":"x","type":"quantitative","scale":{"domain":[-8,10],"nice":false},"axis":null},"y":{"field":"y","type":"quantitative","scale":{"domain":[0,2.46],"nice":false},"axis":null}},
  "layer":[
   {"data":{"name":"spec"},"transform":[{"filter":"datum.k==4"}],"mark":{"type":"line","color":"black","strokeWidth":1.4}},
   {"data":{"name":"annR"},"transform":[{"filter":"datum.p==4"}],"mark":{"type":"text","align":"right","baseline":"middle","fontSize":19,"color":"black"},"encoding":{"text":{"field":"t"}}}
  ]},
 {"width":376,"height":117,
  "encoding":{"x":{"field":"x","type":"quantitative","scale":{"domain":[-8,10],"nice":false},
     "axis":{"values":[-8,-6,-4,-2,0,2,4,6,8,10],"title":"Frequency / kHz","labelFlush":false,"labelOverlap":false,"labelFontSize":19,"labelColor":"black","titleFontSize":19,"titleFontWeight":"normal","titleColor":"black","domainColor":"black","tickColor":"black","tickSize":-5,"labelPadding":12,"titlePadding":9,"grid":false}},
   "y":{"field":"y","type":"quantitative","scale":{"domain":[-0.3,2.04],"nice":false},"axis":null}},
  "layer":[
   {"data":{"name":"spec"},"transform":[{"filter":"datum.k==5"}],"mark":{"type":"line","color":"black","strokeWidth":1.4}},
   {"data":{"name":"annL"},"transform":[{"filter":"datum.p==5"}],"mark":{"type":"text","align":"left","baseline":"middle","fontSize":19},"encoding":{"text":{"field":"t"},"color":{"field":"c","type":"nominal","scale":{"domain":["b","k"],"range":["#3a4fa6","#000000"]},"legend":null}}},
   {"data":{"name":"annS"},"transform":[{"filter":"datum.p==5"}],"mark":{"type":"text","align":"left","baseline":"middle","fontSize":12},"encoding":{"text":{"field":"t"},"color":{"field":"c","type":"nominal","scale":{"domain":["b","k"],"range":["#3a4fa6","#000000"]},"legend":null}}},
   {"data":{"name":"annC"},"transform":[{"filter":"datum.p==5"}],"mark":{"type":"text","align":"center","baseline":"middle","fontSize":19,"color":"#3a4fa6"},"encoding":{"text":{"field":"t"}}},
   {"data":{"name":"annR"},"transform":[{"filter":"datum.p==5"}],"mark":{"type":"text","align":"right","baseline":"middle","fontSize":19,"color":"black"},"encoding":{"text":{"field":"t"}}}
  ]}
]},
{"hconcat":[
{"title":{"text":"b) some single spins","dx":42},"spacing":0,"vconcat":[
 {"width":10,"height":49,"data":{"values":[]},"mark":"point"},
 {"hconcat":[
   {"width":32,"height":128,"data":{"name":"brace"},"transform":[{"filter":"datum.b==1"}],"mark":{"type":"line","color":"#9a9a9a","strokeWidth":1.8,"interpolate":"basis"},"encoding":{"x":{"field":"x","type":"quantitative","scale":{"domain":[0,1],"nice":false},"axis":null},"y":{"field":"y","type":"quantitative","scale":{"domain":[0,1],"nice":false},"axis":null},"order":{"field":"i","type":"quantitative"}}},
   {"vconcat":[
     {"width":271,"height":29,"view":{"stroke":"#8c8c8c"},"data":{"name":"spins"},"transform":[{"filter":"datum.g==1 && datum.r==1"}],"mark":{"type":"line","color":"#3d5aae","strokeWidth":1.2},"encoding":{"x":{"field":"t","type":"quantitative","scale":{"domain":[0,14],"nice":false},"axis":null},"y":{"field":"v","type":"quantitative","scale":{"domain":[-1.08,1.08],"nice":false},"axis":null}}},
     {"width":271,"height":29,"view":{"stroke":"#8c8c8c"},"data":{"name":"spins"},"transform":[{"filter":"datum.g==1 && datum.r==2"}],"mark":{"type":"line","color":"#3d5aae","strokeWidth":1.2},"encoding":{"x":{"field":"t","type":"quantitative","scale":{"domain":[0,14],"nice":false},"axis":null},"y":{"field":"v","type":"quantitative","scale":{"domain":[-1.08,1.08],"nice":false},"axis":null}}},
     {"width":271,"height":29,"view":{"stroke":"#8c8c8c"},"data":{"name":"spins"},"transform":[{"filter":"datum.g==1 && datum.r==3"}],"mark":{"type":"line","color":"#3d5aae","strokeWidth":1.2},"encoding":{"x":{"field":"t","type":"quantitative","scale":{"domain":[0,14],"nice":false},"axis":null},"y":{"field":"v","type":"quantitative","scale":{"domain":[-1.08,1.08],"nice":false},"axis":null}}},
     {"width":271,"height":29,"view":{"stroke":"#8c8c8c"},"data":{"name":"spins"},"transform":[{"filter":"datum.g==1 && datum.r==4"}],"mark":{"type":"line","color":"#3d5aae","strokeWidth":1.2},"encoding":{"x":{"field":"t","type":"quantitative","scale":{"domain":[0,14],"nice":false},"axis":null},"y":{"field":"v","type":"quantitative","scale":{"domain":[-1.08,1.08],"nice":false},"axis":null}}}
   ],"spacing":4,"bounds":"flush"},
   {"width":34,"height":128,"data":{"name":"arrows"},"transform":[{"filter":"datum.b==1"}],"mark":{"type":"text","fontSize":30,"color":"#999999","align":"center","baseline":"middle"},"encoding":{"x":{"field":"x","type":"quantitative","scale":{"domain":[0,1],"nice":false},"axis":null},"y":{"field":"y","type":"quantitative","scale":{"domain":[0,1],"nice":false},"axis":null},"text":{"field":"t"}}}
 ],"spacing":8},
 {"width":10,"height":105,"data":{"values":[]},"mark":"point"},
 {"hconcat":[
   {"width":32,"height":147,"data":{"name":"brace"},"transform":[{"filter":"datum.b==2"}],"mark":{"type":"line","color":"#9a9a9a","strokeWidth":1.8,"interpolate":"basis"},"encoding":{"x":{"field":"x","type":"quantitative","scale":{"domain":[0,1],"nice":false},"axis":null},"y":{"field":"y","type":"quantitative","scale":{"domain":[0,1],"nice":false},"axis":null},"order":{"field":"i","type":"quantitative"}}},
   {"vconcat":[
     {"width":271,"height":33,"view":{"stroke":"#8c8c8c"},"data":{"name":"spins"},"transform":[{"filter":"datum.g==2 && datum.r==1"}],"mark":{"type":"line","color":"#3d5aae","strokeWidth":1.2},"encoding":{"x":{"field":"t","type":"quantitative","scale":{"domain":[0,14],"nice":false},"axis":null},"y":{"field":"v","type":"quantitative","scale":{"domain":[-1.08,1.08],"nice":false},"axis":null}}},
     {"width":271,"height":33,"view":{"stroke":"#8c8c8c"},"data":{"name":"spins"},"transform":[{"filter":"datum.g==2 && datum.r==2"}],"mark":{"type":"line","color":"#3d5aae","strokeWidth":1.2},"encoding":{"x":{"field":"t","type":"quantitative","scale":{"domain":[0,14],"nice":false},"axis":null},"y":{"field":"v","type":"quantitative","scale":{"domain":[-1.08,1.08],"nice":false},"axis":null}}},
     {"width":271,"height":33,"view":{"stroke":"#8c8c8c"},"data":{"name":"spins"},"transform":[{"filter":"datum.g==2 && datum.r==3"}],"mark":{"type":"line","color":"#3d5aae","strokeWidth":1.2},"encoding":{"x":{"field":"t","type":"quantitative","scale":{"domain":[0,14],"nice":false},"axis":null},"y":{"field":"v","type":"quantitative","scale":{"domain":[-1.08,1.08],"nice":false},"axis":null}}},
     {"width":271,"height":33,"view":{"stroke":"#8c8c8c"},"data":{"name":"spins"},"transform":[{"filter":"datum.g==2 && datum.r==4"}],"mark":{"type":"line","color":"#3d5aae","strokeWidth":1.2},"encoding":{"x":{"field":"t","type":"quantitative","scale":{"domain":[0,14],"nice":false},"axis":null},"y":{"field":"v","type":"quantitative","scale":{"domain":[-1.08,1.08],"nice":false},"axis":null}}}
   ],"spacing":5,"bounds":"flush"},
   {"width":34,"height":147,"data":{"name":"arrows"},"transform":[{"filter":"datum.b==2"}],"mark":{"type":"text","fontSize":30,"color":"#999999","align":"center","baseline":"middle"},"encoding":{"x":{"field":"x","type":"quantitative","scale":{"domain":[0,1],"nice":false},"axis":null},"y":{"field":"y","type":"quantitative","scale":{"domain":[0,1],"nice":false},"axis":null},"text":{"field":"t"}}}
 ],"spacing":8},
 {"width":10,"height":91,"data":{"values":[]},"mark":"point"},
 {"hconcat":[
   {"width":32,"height":135,"data":{"name":"brace"},"transform":[{"filter":"datum.b==3"}],"mark":{"type":"line","color":"#9a9a9a","strokeWidth":1.8,"interpolate":"basis"},"encoding":{"x":{"field":"x","type":"quantitative","scale":{"domain":[0,1],"nice":false},"axis":null},"y":{"field":"y","type":"quantitative","scale":{"domain":[0,1],"nice":false},"axis":null},"order":{"field":"i","type":"quantitative"}}},
   {"vconcat":[
     {"width":271,"height":30,"view":{"stroke":"#8c8c8c"},"data":{"name":"spins"},"transform":[{"filter":"datum.g==3 && datum.r==1"}],"mark":{"type":"line","color":"#3d5aae","strokeWidth":1.2},"encoding":{"x":{"field":"t","type":"quantitative","scale":{"domain":[0,14],"nice":false},"axis":null},"y":{"field":"v","type":"quantitative","scale":{"domain":[-1.08,1.08],"nice":false},"axis":null}}},
     {"width":271,"height":30,"view":{"stroke":"#8c8c8c"},"data":{"name":"spins"},"transform":[{"filter":"datum.g==3 && datum.r==2"}],"mark":{"type":"line","color":"#3d5aae","strokeWidth":1.2},"encoding":{"x":{"field":"t","type":"quantitative","scale":{"domain":[0,14],"nice":false},"axis":null},"y":{"field":"v","type":"quantitative","scale":{"domain":[-1.08,1.08],"nice":false},"axis":null}}},
     {"width":271,"height":30,"view":{"stroke":"#8c8c8c"},"data":{"name":"spins"},"transform":[{"filter":"datum.g==3 && datum.r==3"}],"mark":{"type":"line","color":"#3d5aae","strokeWidth":1.2},"encoding":{"x":{"field":"t","type":"quantitative","scale":{"domain":[0,14],"nice":false},"axis":null},"y":{"field":"v","type":"quantitative","scale":{"domain":[-1.08,1.08],"nice":false},"axis":null}}},
     {"width":271,"height":30,"view":{"stroke":"#8c8c8c"},"data":{"name":"spins"},"transform":[{"filter":"datum.g==3 && datum.r==4"}],"mark":{"type":"line","color":"#3d5aae","strokeWidth":1.2},"encoding":{"x":{"field":"t","type":"quantitative","scale":{"domain":[0,14],"nice":false},"axis":null},"y":{"field":"v","type":"quantitative","scale":{"domain":[-1.08,1.08],"nice":false},"axis":null}}}
   ],"spacing":5,"bounds":"flush"},
   {"width":34,"height":135,"data":{"name":"arrows"},"transform":[{"filter":"datum.b==3"}],"mark":{"type":"text","fontSize":30,"color":"#999999","align":"center","baseline":"middle"},"encoding":{"x":{"field":"x","type":"quantitative","scale":{"domain":[0,1],"nice":false},"axis":null},"y":{"field":"y","type":"quantitative","scale":{"domain":[0,1],"nice":false},"axis":null},"text":{"field":"t"}}}
 ],"spacing":8}
]},
{"title":{"text":"c) sum of 32000 spins"},"spacing":0,"bounds":"flush","vconcat":[
 {"width":10,"height":67,"data":{"values":[]},"mark":"point"},
 {"width":263,"height":78,"view":{"stroke":"#aaaaaa"},"data":{"name":"fid"},"transform":[{"filter":"datum.n==1"}],"mark":{"type":"line","color":"#3d5aae","strokeWidth":1.3},
  "encoding":{"x":{"field":"t","type":"quantitative","scale":{"domain":[0,14],"nice":false},"axis":{"values":[0,2,4,6,8,10,12,14],"title":"Time / ms","labelFlush":true,"labelOverlap":false,"labelFontSize":19,"labelColor":"black","titleFontSize":19,"titleFontWeight":"normal","titleColor":"black","domainColor":"#555","tickColor":"#555","tickSize":-4,"labelPadding":12,"titlePadding":4,"grid":false}},
   "y":{"field":"v","type":"quantitative","scale":{"domain":[-1.26,1.21],"nice":false},"axis":{"title":null,"labels":false,"ticks":false,"grid":false,"domainColor":"#555"}}}},
 {"width":10,"height":163,"data":{"values":[]},"mark":"point"},
 {"width":265,"height":83,"view":{"stroke":"#aaaaaa"},"data":{"name":"fid"},"transform":[{"filter":"datum.n==2"}],"mark":{"type":"line","color":"#3d5aae","strokeWidth":1.3},
  "encoding":{"x":{"field":"t","type":"quantitative","scale":{"domain":[0,14],"nice":false},"axis":{"values":[0,2,4,6,8,10,12,14],"title":"Time / ms","labelFlush":true,"labelOverlap":false,"labelFontSize":19,"labelColor":"black","titleFontSize":19,"titleFontWeight":"normal","titleColor":"black","domainColor":"#555","tickColor":"#555","tickSize":-4,"labelPadding":12,"titlePadding":3,"grid":false}},
   "y":{"field":"v","type":"quantitative","scale":{"domain":[-0.63,1.29],"nice":false},"axis":{"title":null,"labels":false,"ticks":false,"grid":false,"domainColor":"#555"}}}},
 {"width":10,"height":156,"data":{"values":[]},"mark":"point"},
 {"width":258,"height":79,"view":{"stroke":"#aaaaaa"},"data":{"name":"fid"},"transform":[{"filter":"datum.n==3"}],"mark":{"type":"line","color":"#3d5aae","strokeWidth":1.3},
  "encoding":{"x":{"field":"t","type":"quantitative","scale":{"domain":[0,14],"nice":false},"axis":{"values":[0,2,4,6,8,10,12,14],"title":"Time / ms","labelFlush":true,"labelOverlap":false,"labelFontSize":19,"labelColor":"black","titleFontSize":19,"titleFontWeight":"normal","titleColor":"black","domainColor":"#555","tickColor":"#555","tickSize":-4,"labelPadding":9,"titlePadding":1,"grid":false}},
   "y":{"field":"v","type":"quantitative","scale":{"domain":[-1.31,1.3],"nice":false},"axis":{"title":null,"labels":false,"ticks":false,"grid":false,"domainColor":"#555"}}}}
]}
],"spacing":362,"bounds":"flush"}
],
"spacing":377,
"bounds":"flush"
}
